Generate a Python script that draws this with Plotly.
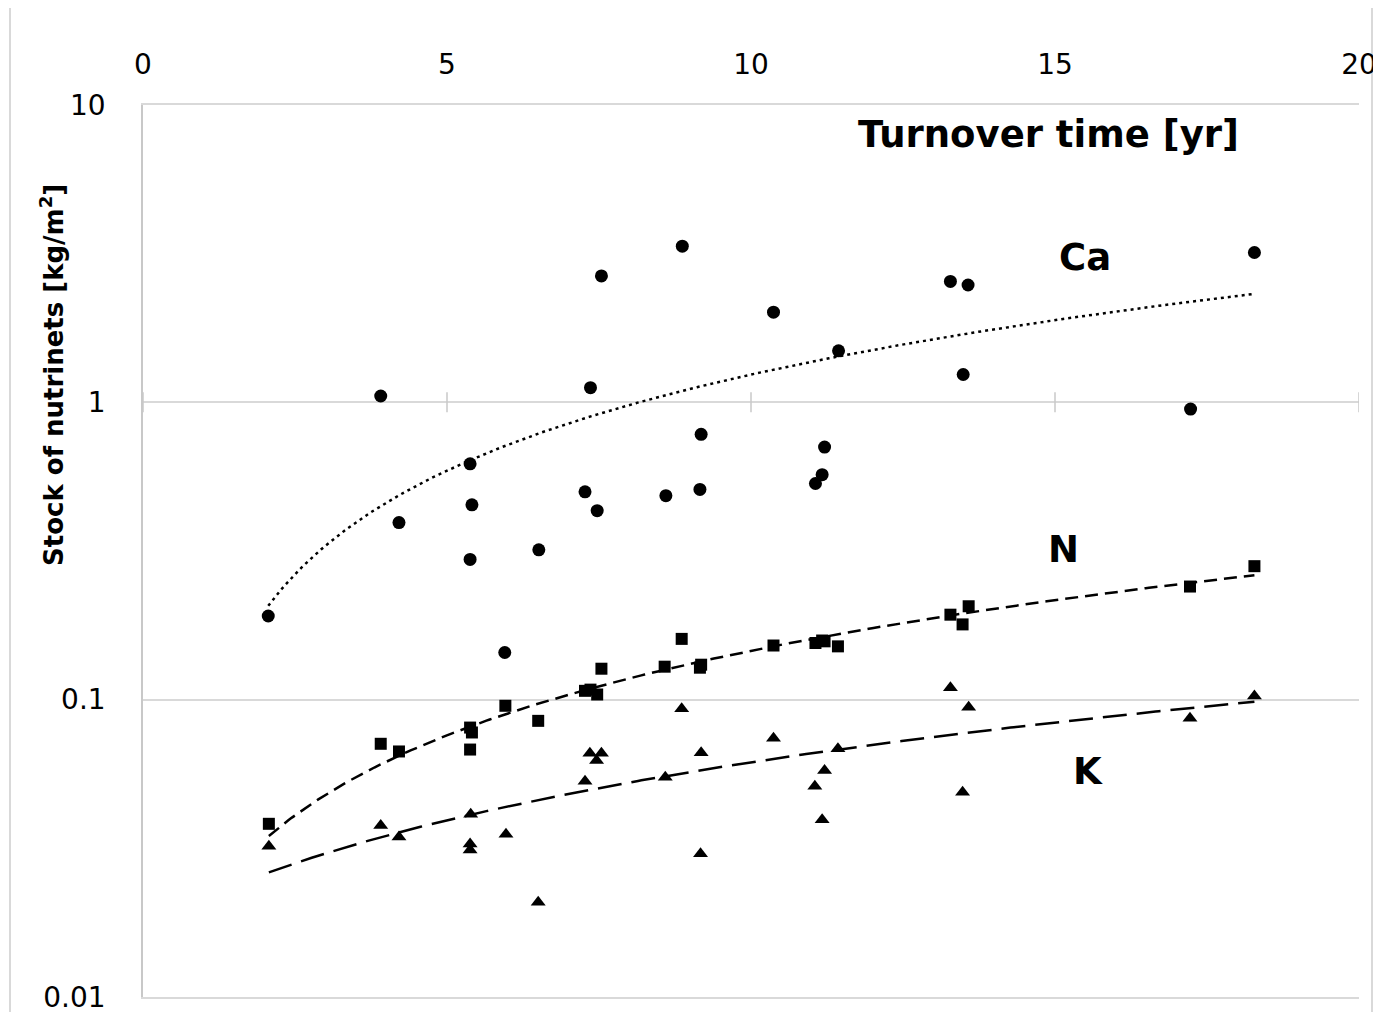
import numpy as np
import plotly.graph_objects as go

# ---- data ----
ca_x = [2.06, 3.91, 4.21, 5.38, 5.41, 5.38, 5.95, 6.51, 7.27, 7.36, 7.47, 7.54, 8.60,
        8.87, 9.18, 9.16, 10.37, 11.06, 11.17, 11.21, 11.44, 13.28, 13.57, 13.49, 17.23, 18.28]
ca_y = [0.191, 1.05, 0.394, 0.621, 0.452, 0.296, 0.144, 0.319, 0.50, 1.12, 0.432, 2.66, 0.485,
        3.35, 0.78, 0.509, 2.01, 0.533, 0.571, 0.707, 1.49, 2.55, 2.48, 1.24, 0.949, 3.19]

n_x = [2.07, 3.91, 4.21, 5.38, 5.41, 5.38, 5.96, 6.50, 7.27, 7.36, 7.47, 7.54, 8.58,
       8.86, 9.16, 9.18, 10.37, 11.06, 11.17, 11.21, 11.43, 13.28, 13.58, 13.48, 17.22, 18.28]
n_y = [0.0382, 0.0710, 0.0669, 0.0805, 0.0775, 0.0679, 0.0953, 0.0848, 0.107, 0.108, 0.104, 0.127, 0.129,
       0.160, 0.128, 0.131, 0.152, 0.155, 0.158, 0.157, 0.151, 0.193, 0.206, 0.179, 0.240, 0.281]

k_x = [2.07, 3.91, 4.21, 5.38, 5.38, 5.39, 5.97, 6.50, 7.27, 7.35, 7.46, 7.54, 8.59,
       8.86, 9.17, 9.18, 10.37, 11.05, 11.21, 11.17, 11.43, 13.28, 13.58, 13.48, 17.22, 18.28]
k_y = [0.0321, 0.0377, 0.0345, 0.0327, 0.0312, 0.0411, 0.0352, 0.0208, 0.0531, 0.0660, 0.0624, 0.0660, 0.0548,
       0.0931, 0.0303, 0.0662, 0.0741, 0.0511, 0.0577, 0.0394, 0.0683, 0.1095, 0.0942, 0.0488, 0.0865, 0.1028]

x_ticks = [0, 5, 10, 15, 20]
y_ticks = [0.01, 0.1, 1, 10]
y_tick_labels = ["0.01", "0.1", "1", "10"]

series_labels = ["Ca", "N", "K"]

FONT = "DejaVu Sans"
GRID = "#d9d9d9"

# page body adds an 8px offset; compensate so the plot lands where the reference has it
OFF = 8
W, H = 1381 - OFF, 1012
L, T, PW, PH = 143 - OFF, 105 - OFF, 1216, 892
R, B = W - L - PW, H - T - PH

fig = go.Figure()

def trend(xs, ys):
    a, b = np.polyfit(np.array(xs), np.array(ys), 1)
    xx = np.linspace(min(xs), max(xs), 300)
    return xx, a * xx + b

styles = [
    (ca_x, ca_y, "circle", 13, "3px,4px"),
    (n_x, n_y, "square", 12, "13px,7px"),
    (k_x, k_y, "triangle-up", 13, "24px,10px"),
]

for (xs, ys, sym, size, dash), name in zip(styles, series_labels):
    tx, ty = trend(xs, ys)
    fig.add_trace(go.Scatter(x=tx, y=ty, mode="lines", showlegend=False, hoverinfo="skip",
                             line=dict(color="black", width=2.5, dash=dash)))
    fig.add_trace(go.Scatter(x=xs, y=ys, mode="markers", name=name, showlegend=False,
                             marker=dict(symbol=sym, size=size, color="black")))

fig.update_layout(
    width=W, height=H,
    margin=dict(l=L, r=R, t=T, b=B, autoexpand=False),
    paper_bgcolor="white", plot_bgcolor="white",
    font=dict(family=FONT, color="black"),
    showlegend=False,
)

fig.update_xaxes(
    range=[0, 20], side="top", tickvals=x_ticks, ticktext=[str(v) for v in x_ticks],
    showgrid=False, zeroline=False,
    showline=True, linecolor=GRID, linewidth=2, mirror=True,
    ticks="outside", ticklen=18, tickcolor="rgba(0,0,0,0)",
    tickfont=dict(family=FONT, size=28, color="black"),
    ticklabeloverflow="allow",
)
fig.update_yaxes(
    type="log", range=[-2.0005, 1], tickvals=y_ticks, ticktext=y_tick_labels,
    showgrid=True, gridcolor=GRID, gridwidth=1.5, zeroline=False,
    showline=True, linecolor="#c8c8c8", linewidth=1.5,
    ticks="outside", ticklen=30, tickcolor="rgba(0,0,0,0)",
    tickfont=dict(family=FONT, size=28, color="black"),
    ticklabeloverflow="allow",
)

def px_to_paper(px, py):
    return (px - 143) / PW, (997 - py) / PH

# cross tick marks on the horizontal axis at y = 1
y_axis_pos = (np.log10(1) - (-2)) / 3.0
for t in x_ticks:
    fig.add_shape(type="line", xref="x", yref="paper", x0=t, x1=t,
                  y0=y_axis_pos - 10 / PH, y1=y_axis_pos + 10 / PH,
                  line=dict(color="#c8c8c8", width=1.5))

# chart border
bx0, by1 = px_to_paper(10, 7)
bx1, by0 = px_to_paper(1372, 1030)
fig.add_shape(type="rect", xref="paper", yref="paper", x0=bx0, x1=bx1, y0=by0, y1=by1,
              line=dict(color=GRID, width=2), layer="below")

ann_pos = {"Ca": (1085, 257), "N": (1063, 549), "K": (1088, 771)}
for lab in series_labels:
    ax_, ay_ = px_to_paper(*ann_pos[lab])
    fig.add_annotation(text=f"<b>{lab}</b>", xref="paper", yref="paper", x=ax_, y=ay_,
                       xanchor="center", yanchor="middle", showarrow=False,
                       font=dict(family=FONT, size=37, color="black"))

tx_, ty_ = px_to_paper(1048, 135)
fig.add_annotation(text="<b>Turnover time [yr]</b>", xref="paper", yref="paper", x=tx_, y=ty_,
                   xanchor="center", yanchor="middle", showarrow=False,
                   font=dict(family=FONT, size=37, color="black"))
yx_, yy_ = px_to_paper(52, 375)
fig.add_annotation(text="<b>Stock of nutrinets [kg/m<sup>2</sup>]</b>", xref="paper", yref="paper",
                   x=yx_, y=yy_, xanchor="center", yanchor="middle", showarrow=False, textangle=-90,
                   font=dict(family=FONT, size=26, color="black"))

fig.write_html("out.html")
